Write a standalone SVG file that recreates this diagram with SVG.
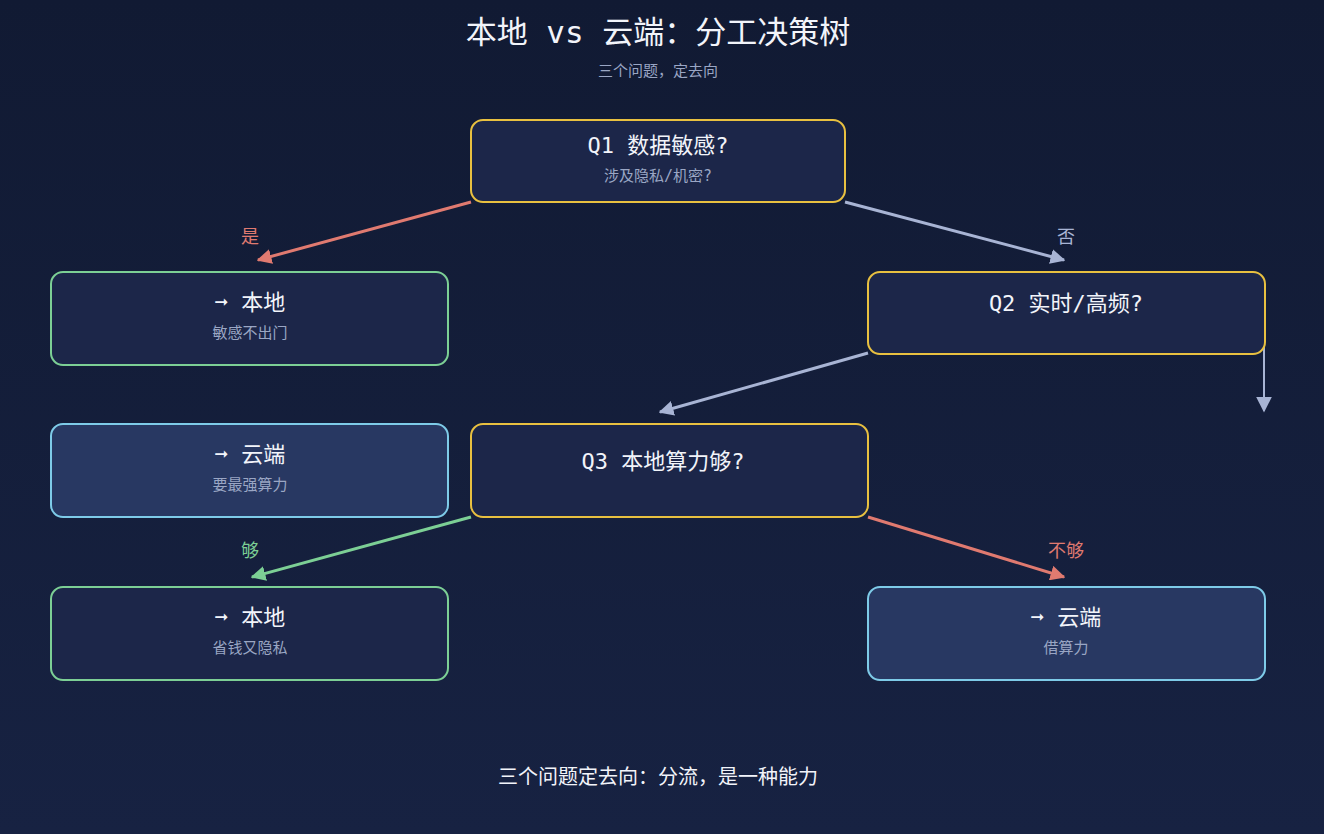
<svg xmlns="http://www.w3.org/2000/svg" width="1324" height="834" viewBox="0 0 1324 834">
<style>
text{font-family:"DejaVu Sans Mono","Noto Sans CJK SC",monospace;text-anchor:middle}
.t{fill:#f2f4fa;font-size:22px}
.s{fill:#9aa6c4;font-size:15px}
.q{fill:#1c2649;stroke:#e8c040;stroke-width:2}
.l{fill:#1c2649;stroke:#7ccf95;stroke-width:2}
.c{fill:#283862;stroke:#7ecbe8;stroke-width:2}
.e{fill:none;stroke-width:3}
</style>
<defs>
<linearGradient id="bg" x1="0" y1="0" x2="0" y2="1"><stop offset="0" stop-color="#111a33"/><stop offset="1" stop-color="#172242"/></linearGradient>
<marker id="ar" viewBox="0 0 10 10" refX="9" refY="5" markerWidth="5" markerHeight="5" orient="auto"><path d="M0,0L10,5L0,10z" fill="#e07a70"/></marker>
<marker id="ag" viewBox="0 0 10 10" refX="9" refY="5" markerWidth="5" markerHeight="5" orient="auto"><path d="M0,0L10,5L0,10z" fill="#a8b4d4"/></marker>
<marker id="ag2" viewBox="0 0 10 10" refX="9" refY="5" markerWidth="8" markerHeight="8" orient="auto"><path d="M0,0L10,5L0,10z" fill="#a8b4d4"/></marker>
<marker id="agr" viewBox="0 0 10 10" refX="9" refY="5" markerWidth="5" markerHeight="5" orient="auto"><path d="M0,0L10,5L0,10z" fill="#7ccf95"/></marker>
</defs>
<rect width="1324" height="834" fill="url(#bg)"/>
<text x="658" y="43" fill="#f2f4fa" font-size="31">本地 vs 云端：分工决策树</text>
<text x="658" y="76" class="s">三个问题，定去向</text>
<g id="connectors">
<path class="e" d="M471,202L258,260" stroke="#e07a70" marker-end="url(#ar)"/>
<text x="250" y="243" fill="#e07a70" font-size="18">是</text>
<path class="e" d="M845,202L1064,260" stroke="#a8b4d4" marker-end="url(#ag)"/>
<text x="1066" y="243" fill="#a8b4d4" font-size="18">否</text>
<path class="e" d="M868,353L660,412" stroke="#a8b4d4" marker-end="url(#ag)"/>
<path fill="none" stroke="#a8b4d4" stroke-width="2" d="M1264,313L1264,411" marker-end="url(#ag2)"/>
<path class="e" d="M471,517L252,577" stroke="#7ccf95" marker-end="url(#agr)"/>
<text x="250" y="557" fill="#7ccf95" font-size="18">够</text>
<path class="e" d="M868,517L1064,577" stroke="#e07a70" marker-end="url(#ar)"/>
<text x="1066" y="557" fill="#e07a70" font-size="18">不够</text>
</g>
<g id="q1"><rect class="q" x="471" y="120" width="374" height="82" rx="12"/><text class="t" x="658" y="153">Q1 数据敏感?</text><text class="s" x="658" y="181">涉及隐私/机密?</text></g>
<g id="local1"><rect class="l" x="51" y="272" width="397" height="93" rx="12"/><text class="t" x="250" y="310">➞ 本地</text><text class="s" x="250" y="338">敏感不出门</text></g>
<g id="q2"><rect class="q" x="868" y="272" width="397" height="82" rx="12"/><text class="t" x="1066" y="311">Q2 实时/高频?</text></g>
<g id="cloud1"><rect class="c" x="51" y="424" width="397" height="93" rx="12"/><text class="t" x="250" y="462">➞ 云端</text><text class="s" x="250" y="490">要最强算力</text></g>
<g id="q3"><rect class="q" x="471" y="424" width="397" height="93" rx="12"/><text class="t" x="663" y="469">Q3 本地算力够?</text></g>
<g id="local2"><rect class="l" x="51" y="587" width="397" height="93" rx="12"/><text class="t" x="250" y="625">➞ 本地</text><text class="s" x="250" y="653">省钱又隐私</text></g>
<g id="cloud2"><rect class="c" x="868" y="587" width="397" height="93" rx="12"/><text class="t" x="1066" y="625">➞ 云端</text><text class="s" x="1066" y="653">借算力</text></g>
<text x="658" y="784" fill="#f2f4fa" font-size="20">三个问题定去向：分流，是一种能力</text>
</svg>
